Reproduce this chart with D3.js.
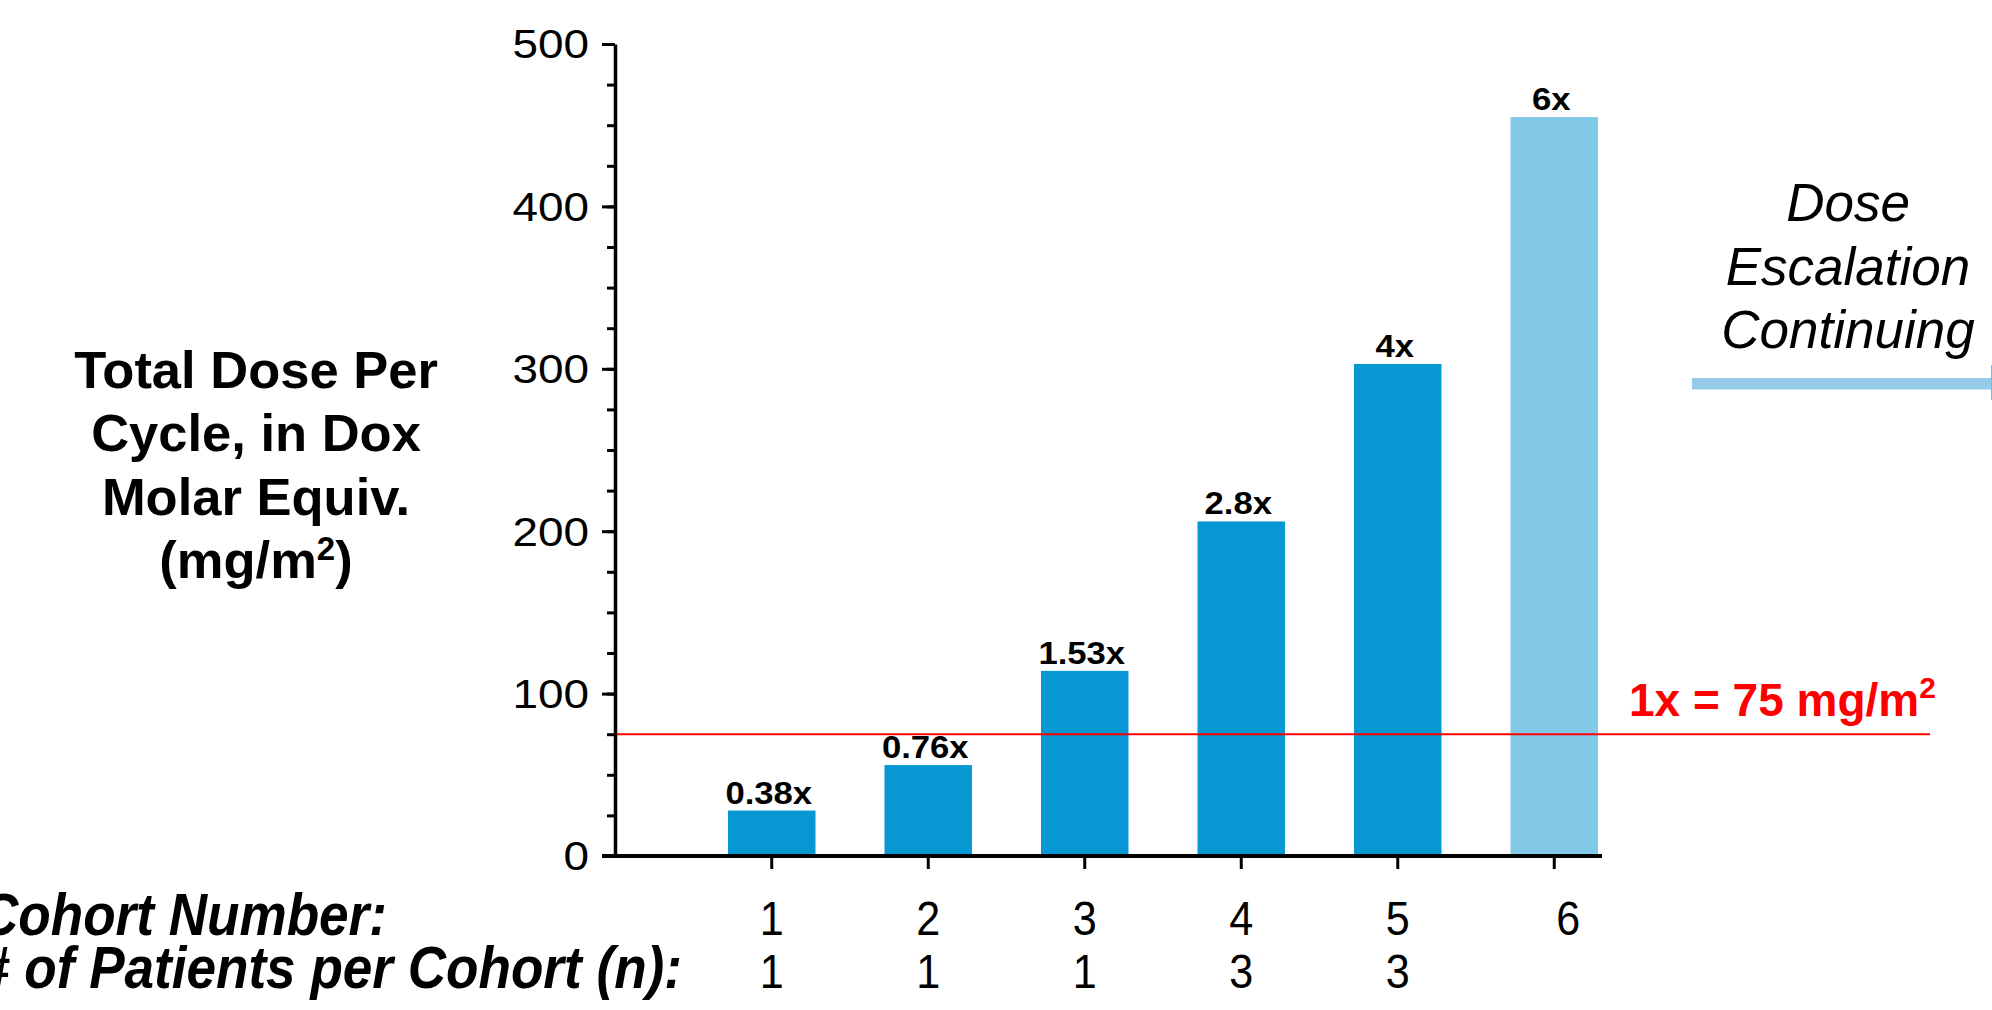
<!DOCTYPE html>
<html>
<head>
<meta charset="utf-8">
<script src="https://cdn.jsdelivr.net/npm/d3@7"></script>
<style>
  html, body { margin: 0; padding: 0; background: #fff; }
  svg { display: block; font-family: "Liberation Sans", Arial, Helvetica, sans-serif; }
</style>
</head>
<body>
<svg id="chart" width="1992" height="1010"></svg>
<script>
// ---- data ----
const cohorts = ["1", "2", "3", "4", "5", "6"];
const doses = [28, 56, 114, 206, 303, 455];
const multipliers = ["0.38x", "0.76x", "1.53x", "2.8x", "4x", "6x"];
const patients = ["1", "1", "1", "3", "3", ""];
const ongoing = [false, false, false, false, false, true];
const yTicks = [0, 100, 200, 300, 400, 500];
const yMinorStep = 25;
const referenceDose = 75;
const referenceLabel = "1x = 75 mg/m";
const yTitleLines = ["Total Dose Per", "Cycle, in Dox", "Molar Equiv.", "(mg/m"];
const noteLines = ["Dose", "Escalation", "Continuing"];
const rowLabels = ["Cohort Number:", "# of Patients per Cohort (n):"];

// ---- layout ----
const svg = d3.select("#chart");
const axisX = 615, axisY = 856, topY = 44;
const barColor = "#0797D3", lightColor = "#81C9E7", red = "#FF0000";

const y = d3.scaleLinear().domain([0, 500]).range([axisY, topY]);
const x = d3.scaleBand().domain(cohorts).range([615, 1711]).paddingInner(0.441).paddingOuter(0.722);
const cx = d => x(d) + x.bandwidth() / 2;

// bars
svg.append("g").selectAll("rect").data(cohorts).join("rect")
  .attr("x", d => x(d))
  .attr("width", x.bandwidth())
  .attr("y", (d, i) => y(doses[i]))
  .attr("height", (d, i) => y(0) - y(doses[i]))
  .attr("fill", (d, i) => ongoing[i] ? lightColor : barColor);

// bar value labels
svg.append("g").selectAll("text").data(cohorts).join("text")
  .attr("transform", (d, i) => `translate(${cx(d) - 3},${y(doses[i]) - 7}) scale(1.1,1)`)
  .attr("text-anchor", "middle")
  .attr("font-weight", "bold")
  .attr("font-size", 31.5)
  .attr("fill", "#000")
  .text((d, i) => multipliers[i]);

// reference line
svg.append("line")
  .attr("x1", axisX).attr("x2", 1930)
  .attr("y1", y(referenceDose)).attr("y2", y(referenceDose))
  .attr("stroke", red).attr("stroke-width", 2);

const refText = svg.append("text")
  .attr("x", 1629).attr("y", 716)
  .attr("font-weight", "bold").attr("font-size", 46).attr("fill", red)
  .text(referenceLabel);
refText.append("tspan").attr("font-size", 30).attr("dy", -18).text("2");

// y axis minor ticks
const minorAxis = d3.axisLeft(y).tickValues(d3.range(0, 501, yMinorStep)).tickSize(8).tickFormat("");
const gMinor = svg.append("g").attr("transform", `translate(${axisX},0)`).call(minorAxis);
gMinor.select(".domain").remove();
gMinor.selectAll("line").attr("stroke", "#000").attr("stroke-width", 3);

// y axis major
const yAxis = d3.axisLeft(y).tickValues(yTicks).tickSize(13).tickSizeOuter(0).tickPadding(26);
const gy = svg.append("g").attr("transform", `translate(${axisX},0)`).call(yAxis);
gy.select(".domain").attr("stroke", "#000").attr("stroke-width", 3.5);
gy.selectAll(".tick line").attr("stroke", "#000").attr("stroke-width", 3);
gy.selectAll(".tick text")
  .attr("font-size", 41)
  .attr("font-family", "Liberation Sans, Arial, sans-serif")
  .attr("fill", "#000")
  .attr("x", -26 / 1.12)
  .attr("dy", "0.34em")
  .attr("transform", "scale(1.12,1)");

// x axis
const xAxis = d3.axisBottom(x).tickSize(13).tickSizeOuter(0).tickFormat("");
const gx = svg.append("g").attr("transform", `translate(0,${axisY})`).call(xAxis);
gx.select(".domain").remove();
gx.selectAll(".tick line").attr("stroke", "#000").attr("stroke-width", 3);
svg.append("line")
  .attr("x1", 602).attr("x2", 1602)
  .attr("y1", axisY).attr("y2", axisY)
  .attr("stroke", "#000").attr("stroke-width", 4);

// x labels rows
const rowY = [935, 988];
svg.append("g").selectAll("text").data(cohorts).join("text")
  .attr("transform", (d, i) => `translate(${cx(d) + (i === 5 ? 14 : 0)},${rowY[0]}) scale(0.88,1)`)
  .attr("text-anchor", "middle").attr("font-size", 49).attr("fill", "#000")
  .text(d => d);
svg.append("g").selectAll("text").data(cohorts).join("text")
  .attr("transform", (d, i) => `translate(${cx(d)},${rowY[1]}) scale(0.88,1)`)
  .attr("text-anchor", "middle").attr("font-size", 49).attr("fill", "#000")
  .text((d, i) => patients[i]);

svg.append("g").selectAll("text").data(rowLabels).join("text")
  .attr("transform", (d, i) => `translate(-20,${rowY[i]}) scale(0.885,1)`)
  .attr("font-size", 60).attr("font-weight", "bold").attr("font-style", "italic").attr("fill", "#000")
  .text(d => d);

// y title
const yt = svg.append("text").attr("text-anchor", "middle").attr("font-weight", "bold")
  .attr("font-size", 52.5).attr("fill", "#000");
yTitleLines.slice(0, 3).forEach((t, i) => {
  yt.append("tspan").attr("x", 256).attr("y", 388 + i * 63.3).text(t);
});
const l4 = yt.append("tspan").attr("x", 256).attr("y", 388 + 3 * 63.3);
l4.append("tspan").text(yTitleLines[3]);
l4.append("tspan").attr("font-size", 33).attr("dy", -18).text("2");
l4.append("tspan").attr("dy", 18).text(")");

// note text
svg.append("g").selectAll("text").data(noteLines).join("text")
  .attr("x", 1848).attr("y", (d, i) => 221 + i * 63.5)
  .attr("text-anchor", "middle").attr("font-style", "italic").attr("font-size", 53).attr("fill", "#000")
  .text(d => d);

// arrow shaft
svg.append("rect").attr("x", 1692).attr("y", 378).attr("width", 300).attr("height", 11.5).attr("fill", "#95CBE9");
svg.append("line").attr("x1", 1991.5).attr("x2", 1991.5).attr("y1", 365).attr("y2", 400)
  .attr("stroke", "#7FB6D6").attr("stroke-width", 1);
</script>
</body>
</html>
